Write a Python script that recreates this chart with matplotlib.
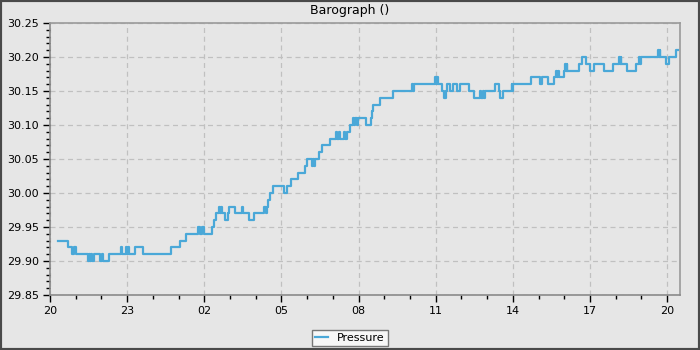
import matplotlib
matplotlib.use('Agg')
import matplotlib.pyplot as plt
from matplotlib.patches import Rectangle
from matplotlib.ticker import MultipleLocator, FuncFormatter

# hours since 20:00, each reading holds until the next one
hours = [
    0.32, 0.69, 0.86, 0.92, 1.02, 1.47, 1.50, 1.54, 1.60, 1.64,
    1.73, 1.95, 2.01, 2.05, 2.31, 2.77, 2.80, 2.95, 3.00, 3.04,
    3.09, 3.32, 3.60, 4.70, 5.06, 5.28, 5.77, 5.82, 5.92, 5.98,
    6.30, 6.37, 6.47, 6.56, 6.60, 6.66, 6.70, 6.79, 6.92, 6.98,
    7.21, 7.45, 7.50, 7.75, 7.92, 8.34, 8.40, 8.43, 8.49, 8.57,
    8.68, 9.09, 9.22, 9.38, 9.63, 9.93, 10.00, 10.19, 10.23, 10.28,
    10.32, 10.45, 10.58, 10.88, 11.14, 11.18, 11.22, 11.27, 11.45, 11.49,
    11.55, 11.67, 11.71, 11.78, 11.82, 11.88, 11.92, 11.96, 12.27, 12.47,
    12.52, 12.58, 12.83, 13.35, 14.09, 14.12, 14.16, 14.97, 15.02, 15.05,
    15.09, 15.26, 15.33, 15.39, 15.45, 15.56, 15.69, 15.82, 15.94, 16.30,
    16.47, 16.71, 16.77, 16.83, 16.89, 16.93, 17.30, 17.46, 17.49, 17.60,
    17.95, 17.98, 18.02, 18.70, 19.06, 19.13, 19.35, 19.61, 19.67, 19.71,
    19.75, 19.80, 19.98, 20.02, 20.06, 20.09, 20.11, 20.56, 20.67, 20.84,
    21.00, 21.16, 21.53, 21.88, 22.12, 22.15, 22.19, 22.22, 22.44, 22.79,
    22.92, 22.96, 23.00, 23.11, 23.64, 23.67, 23.71, 23.74, 23.96, 24.09,
    24.35, 24.43,
]
pressure = [
    29.93, 29.92, 29.91, 29.92, 29.91, 29.90, 29.91, 29.90, 29.91, 29.90,
    29.91, 29.90, 29.91, 29.90, 29.91, 29.92, 29.91, 29.92, 29.91, 29.92,
    29.91, 29.92, 29.91, 29.92, 29.93, 29.94, 29.95, 29.94, 29.95, 29.94,
    29.95, 29.96, 29.97, 29.98, 29.97, 29.98, 29.97, 29.96, 29.97, 29.98,
    29.97, 29.98, 29.97, 29.96, 29.97, 29.98, 29.97, 29.98, 29.99, 30.00,
    30.01, 30.00, 30.01, 30.02, 30.03, 30.04, 30.05, 30.04, 30.05, 30.04,
    30.05, 30.06, 30.07, 30.08, 30.09, 30.08, 30.09, 30.08, 30.09, 30.08,
    30.09, 30.10, 30.10, 30.11, 30.10, 30.11, 30.10, 30.11, 30.10, 30.11,
    30.12, 30.13, 30.14, 30.15, 30.16, 30.15, 30.16, 30.17, 30.16, 30.17,
    30.16, 30.15, 30.14, 30.15, 30.16, 30.15, 30.16, 30.15, 30.16, 30.15,
    30.14, 30.15, 30.14, 30.15, 30.14, 30.15, 30.16, 30.15, 30.14, 30.15,
    30.16, 30.15, 30.16, 30.17, 30.16, 30.17, 30.16, 30.17, 30.18, 30.17,
    30.18, 30.17, 30.18, 30.19, 30.18, 30.19, 30.18, 30.19, 30.20, 30.19,
    30.18, 30.19, 30.18, 30.19, 30.20, 30.19, 30.20, 30.19, 30.18, 30.19,
    30.20, 30.19, 30.20, 30.20, 30.21, 30.20, 30.21, 30.20, 30.19, 30.20,
    30.21, 30.21,
]
start_hour = 20
title = 'Barograph ()'
series_name = 'Pressure'

bg = '#e6e6e6'
line_color = '#4aa8d8'

fig = plt.figure(figsize=(7, 3.5), dpi=100, facecolor=bg)
ax = fig.add_axes([50 / 700, 55 / 350, 630 / 700, 272 / 350])
ax.set_facecolor(bg)

ax.step(hours, pressure, where='post', color=line_color, lw=1.6, label=series_name)

ax.set_xlim(0, 24.5)
ax.set_ylim(29.85, 30.25)
ax.xaxis.set_major_locator(MultipleLocator(3))
ax.xaxis.set_minor_locator(MultipleLocator(1))
ax.xaxis.set_major_formatter(FuncFormatter(lambda v, p: '%02d' % ((start_hour + int(round(v))) % 24)))
ax.yaxis.set_major_locator(MultipleLocator(0.05))
ax.yaxis.set_minor_locator(MultipleLocator(0.01))
ax.yaxis.set_major_formatter(FuncFormatter(lambda v, p: '%.2f' % v))

ax.tick_params(which='major', length=5, width=1, labelsize=8, colors='black', pad=3)
ax.tick_params(which='minor', length=3, width=1, colors='black')
ax.grid(True, which='major', color='#c0c0c0', linestyle=(0, (4, 3)), lw=0.9)

for side in ['left', 'bottom']:
    ax.spines[side].set_color('#8a8a8a')
    ax.spines[side].set_linewidth(1.2)
for side in ['top', 'right']:
    ax.spines[side].set_color('#9a9a9a')
    ax.spines[side].set_linewidth(1.2)

fig.text(0.5, 0.97, title, ha='center', va='center', fontsize=9)

leg = fig.legend(loc='center', bbox_to_anchor=(0.5, 0.034), fontsize=8,
                 frameon=True, fancybox=False, handlelength=1.2, borderpad=0.3,
                 handletextpad=0.8)
leg.get_frame().set_facecolor('#f7f7f7')
leg.get_frame().set_edgecolor('#777777')
leg.get_frame().set_alpha(1)

# dark window border
fig.patches.append(Rectangle((0, 0), 1, 1, transform=fig.transFigure,
                             fill=False, edgecolor='#4a4a4a', lw=3))

fig.savefig('out.png', dpi=100, facecolor=bg)
